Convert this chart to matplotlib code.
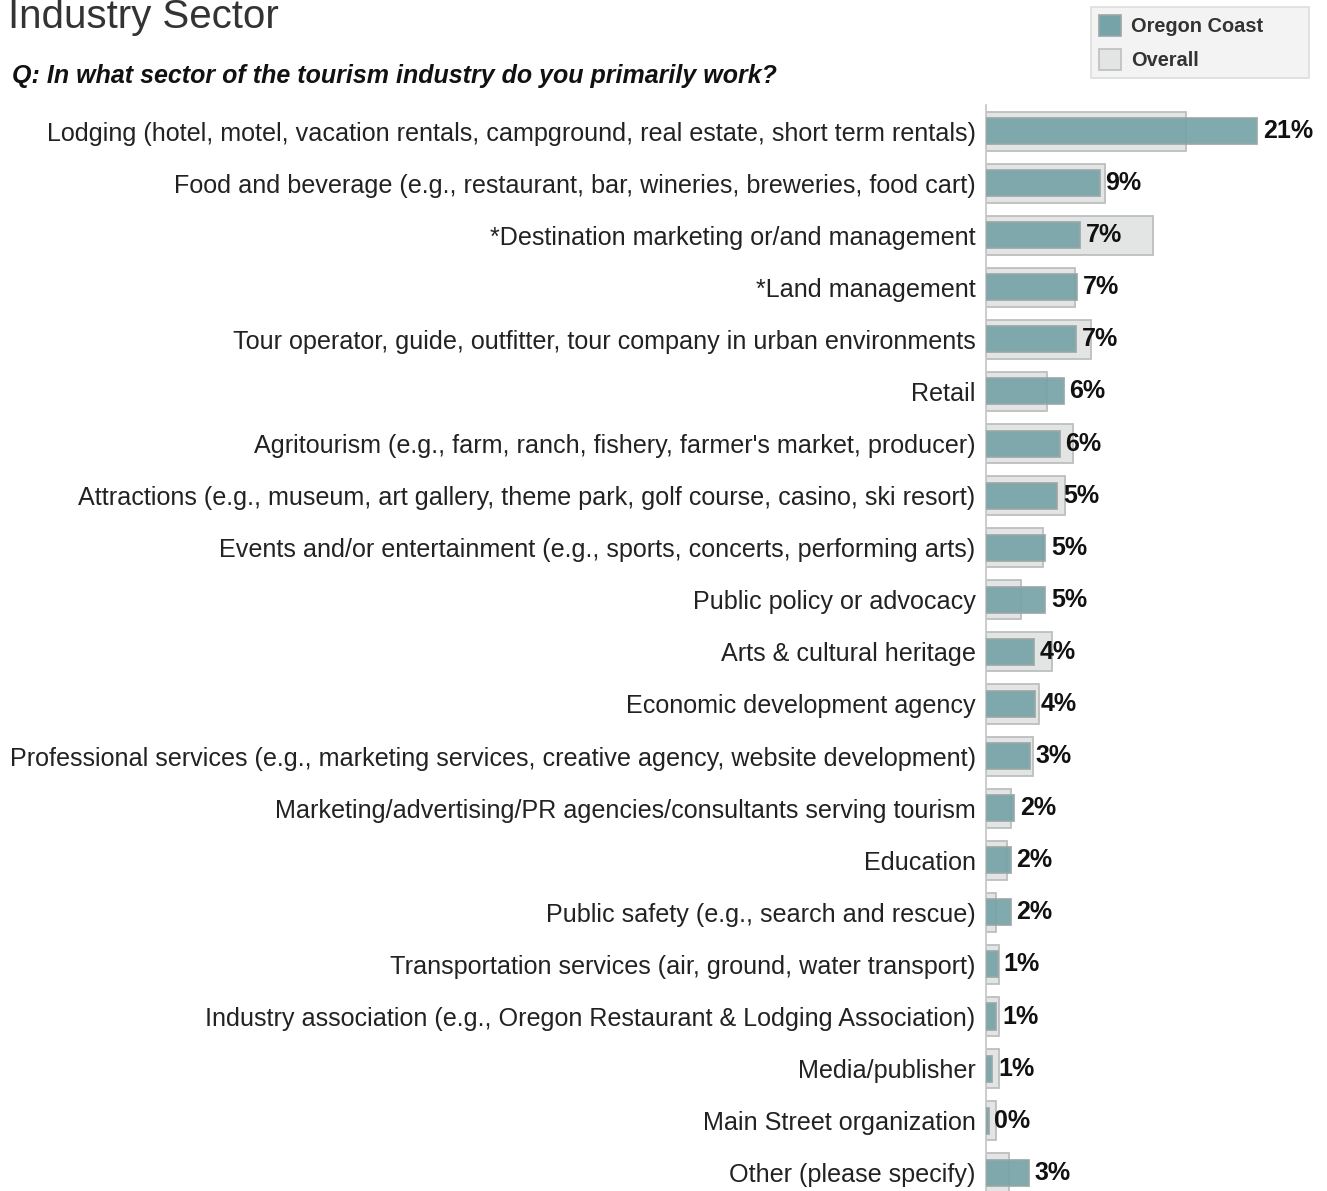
import matplotlib
matplotlib.use("Agg")
import matplotlib.pyplot as plt
from matplotlib.patches import Rectangle
import numpy as np

categories = [
    "Lodging (hotel, motel, vacation rentals, campground, real estate, short term rentals)",
    "Food and beverage (e.g., restaurant, bar, wineries, breweries, food cart)",
    "*Destination marketing or/and management",
    "*Land management",
    "Tour operator, guide, outfitter, tour company in urban environments",
    "Retail",
    "Agritourism (e.g., farm, ranch, fishery, farmer's market, producer)",
    "Attractions (e.g., museum, art gallery, theme park, golf course, casino, ski resort)",
    "Events and/or entertainment (e.g., sports, concerts, performing arts)",
    "Public policy or advocacy",
    "Arts & cultural heritage",
    "Economic development agency",
    "Professional services (e.g., marketing services, creative agency, website development)",
    "Marketing/advertising/PR agencies/consultants serving tourism",
    "Education",
    "Public safety (e.g., search and rescue)",
    "Transportation services (air, ground, water transport)",
    "Industry association (e.g., Oregon Restaurant & Lodging Association)",
    "Media/publisher",
    "Main Street organization",
    "Other (please specify)",
]
oregon_coast = [21.0, 8.8, 7.3, 7.05, 7.0, 6.0, 5.7, 5.5, 4.6, 4.6, 3.7, 3.8, 3.4,
                2.2, 1.9, 1.9, 0.9, 0.8, 0.5, 0.2, 3.3]
overall = [15.5, 9.2, 12.9, 6.9, 8.1, 4.7, 6.7, 6.1, 4.4, 2.7, 5.1, 4.1, 3.6,
           1.9, 1.6, 0.8, 1.0, 1.0, 1.0, 0.8, 1.8]
value_labels = ["21%", "9%", "7%", "7%", "7%", "6%", "6%", "5%", "5%", "5%", "4%", "4%", "3%",
                "2%", "2%", "2%", "1%", "1%", "1%", "0%", "3%"]
legend_labels = ["Oregon Coast", "Overall"]

plt.rcParams['font.family'] = ['Liberation Sans', 'DejaVu Sans']

C_OC = '#76A3A7'
C_OV = '#E2E5E4'

W, H = 1327, 1191
fig = plt.figure(figsize=(W / 100, H / 100), dpi=100)
ax_left = 986 / W
ax_top = 1 - 105 / H
ax = fig.add_axes([ax_left, 0, 1 - ax_left, ax_top])

y = np.arange(len(categories))
ov = ax.barh(y, overall, height=0.75, color=C_OV, edgecolor='#BDBFBF', linewidth=1.3, zorder=2)
oc = ax.barh(y, oregon_coast, height=0.5, color=C_OC, alpha=0.92, edgecolor='#9AA6A6',
             linewidth=1.3, zorder=3)

for yi, v, lab in zip(y, oregon_coast, value_labels):
    ax.text(v + 0.45, yi, lab, va='center', ha='left', fontsize=18, fontweight='bold',
            color='#111111', zorder=4)

ax.set_xlim(0, 26.4)
ax.set_ylim(20.35, -0.5)
ax.set_yticks(y)
ax.set_yticklabels(categories, fontsize=18.1, color='#222222')
ax.tick_params(axis='y', length=0, pad=7.5)
ax.set_xticks([])
for s in ['top', 'right', 'bottom']:
    ax.spines[s].set_visible(False)
ax.spines['left'].set_color('#C8C8C8')
ax.spines['left'].set_linewidth(1.3)

fig.text(8 / W, 1 - 28 / H, "Industry Sector", fontsize=29, color='#333333', va='baseline', ha='left')
fig.text(12 / W, 1 - 83 / H, "Q: In what sector of the tourism industry do you primarily work?",
         fontsize=18, fontweight='bold', fontstyle='italic', color='#111111', va='baseline', ha='left')

def fx(px):
    return px / W

def fy(py):
    return 1 - py / H

fig.add_artist(Rectangle((fx(1091), fy(78)), fx(1309) - fx(1091), fy(7) - fy(78),
                         transform=fig.transFigure, facecolor='#F3F3F3', edgecolor='#DDDDDD',
                         linewidth=1.2))
for (lab, col, ec, ytop) in [(legend_labels[0], C_OC, '#9AA6A6', 15), (legend_labels[1], C_OV, '#BDBFBF', 49)]:
    fig.add_artist(Rectangle((fx(1099), fy(ytop + 21)), fx(1121) - fx(1099), fy(ytop) - fy(ytop + 21),
                             transform=fig.transFigure, facecolor=col, edgecolor=ec, linewidth=1.2))
    fig.text(fx(1131), fy(ytop + 11), lab, fontsize=14.4, fontweight='bold', color='#333333',
             va='center', ha='left')

fig.savefig('out.png', dpi=100)
